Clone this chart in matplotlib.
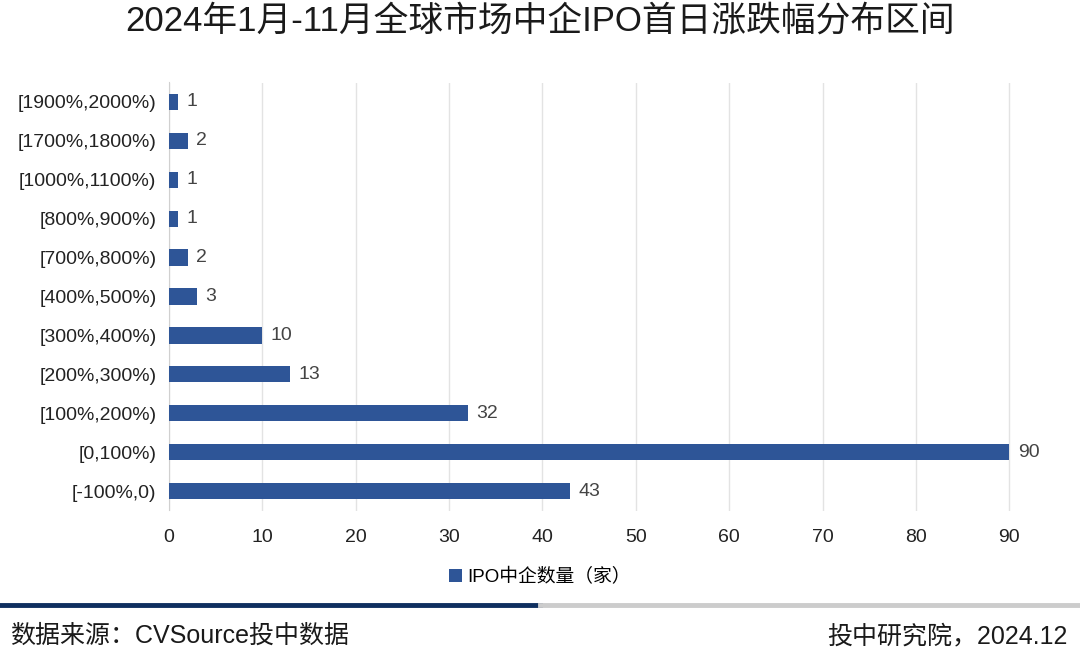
import matplotlib
matplotlib.use('Agg')
import matplotlib.pyplot as plt
from matplotlib.lines import Line2D

plt.rcParams['font.family'] = ['Liberation Sans', 'Noto Sans CJK SC', 'DejaVu Sans']

# 区间与数量（自下而上）
categories = ['[-100%,0)', '[0,100%)', '[100%,200%)', '[200%,300%)', '[300%,400%)',
              '[400%,500%)', '[700%,800%)', '[800%,900%)', '[1000%,1100%)',
              '[1700%,1800%)', '[1900%,2000%)']
counts = [43, 90, 32, 13, 10, 3, 2, 1, 1, 2, 1]
series_name = 'IPO中企数量（家）'
x_ticks = [0, 10, 20, 30, 40, 50, 60, 70, 80, 90]

bar_color = '#2E5597'

fig = plt.figure(figsize=(10.8, 6.61), dpi=100)
ax = fig.add_axes([169 / 1080, 1 - 510.5 / 661, (1056 - 169) / 1080, 428 / 661])

ypos = range(len(categories))
bars = ax.barh(ypos, counts, height=0.42, color=bar_color, label=series_name, zorder=3)
for y, v in zip(ypos, counts):
    ax.text(v + 0.9, y, str(v), va='center', ha='left', fontsize=14, color='#444444')

ax.set_xlim(0, 95)
ax.set_ylim(-0.5, len(categories) - 0.5)
ax.set_yticks(list(ypos))
ax.set_yticklabels(categories, fontsize=14, color='#222222')
ax.set_xticks(x_ticks)
ax.set_xticklabels([str(t) for t in x_ticks], fontsize=14, color='#222222')
ax.tick_params(axis='both', length=0)
ax.tick_params(axis='y', pad=9)
ax.tick_params(axis='x', pad=13)
ax.grid(axis='x', color='#e3e3e3', linewidth=1, zorder=0)
for s in ['top', 'right', 'bottom']:
    ax.spines[s].set_visible(False)
ax.spines['left'].set_color('#d0d0d0')

fig.legend(handles=[bars], labels=[series_name], loc='center', bbox_to_anchor=(0.5, 1 - 577 / 661),
           frameon=False, fontsize=13.5, handlelength=0.7, handleheight=0.7, handletextpad=0.3)

fig.text(0.5, 1 - 21 / 661, '2024年1月-11月全球市场中企IPO首日涨跌幅分布区间',
         ha='center', va='center', fontsize=25, fontweight='medium', color='#1a1a1a')

# 底部装饰线
fig.add_artist(Line2D([0, 0.5], [1 - 605 / 661] * 2, color='#0F2F5F', linewidth=3.5,
                      transform=fig.transFigure))
fig.add_artist(Line2D([0.5, 1], [1 - 605 / 661] * 2, color='#cccccc', linewidth=3.5,
                      transform=fig.transFigure))

fig.text(10 / 1080, 1 - 636 / 661, '数据来源：CVSource投中数据', ha='left', va='center',
         fontsize=18, fontweight='medium', color='#1a1a1a')
fig.text(1068 / 1080, 1 - 636 / 661, '投中研究院，2024.12', ha='right', va='center',
         fontsize=18, fontweight='medium', color='#1a1a1a')

fig.savefig('out.png', dpi=100)
